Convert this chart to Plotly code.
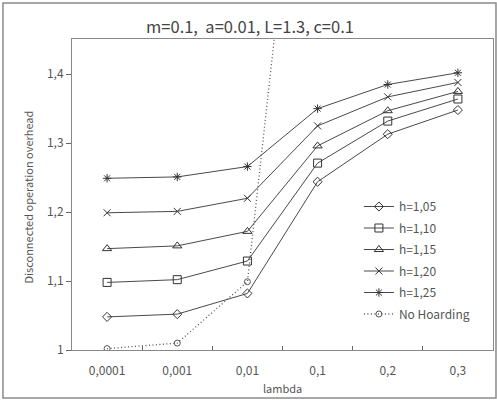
import plotly.graph_objects as go

lambdas = ["0,0001", "0,001", "0,01", "0,1", "0,2", "0,3"]
h105 = [1.048, 1.052, 1.082, 1.244, 1.313, 1.348]
h110 = [1.098, 1.102, 1.129, 1.271, 1.332, 1.364]
h115 = [1.147, 1.151, 1.172, 1.296, 1.347, 1.375]
h120 = [1.199, 1.201, 1.220, 1.325, 1.367, 1.388]
h125 = [1.249, 1.251, 1.266, 1.350, 1.385, 1.402]
no_hoarding = [1.002, 1.010, 1.099, 2.02, 2.6, 3.0]

series_names = ["h=1,05", "h=1,10", "h=1,15", "h=1,20", "h=1,25"]
series_vals = [h105, h110, h115, h120, h125]
symbols = ["diamond-open", "square-open", "triangle-up-open", "x-thin-open", "asterisk-open"]
sizes = [7, 8, 8, 7, 7]

y_ticks = [1.0, 1.1, 1.2, 1.3, 1.4]
y_ticktext = ["1", "1,1", "1,2", "1,3", "1,4"]

FONT = "Noto Sans CJK KR"
TXT = "#555555"
LINE = "#4a4a4a"

fig = go.Figure()
for i, (name, vals, sym, sz) in enumerate(zip(series_names, series_vals, symbols, sizes)):
    fig.add_trace(go.Scatter(
        x=lambdas, y=vals, name=name, mode="lines+markers", legendgroup=f"g{i}",
        line=dict(color=LINE, width=1),
        marker=dict(symbol=sym, size=sz, color="#333333", line=dict(width=1, color="#333333")),
    ))
fig.add_trace(go.Scatter(
    x=lambdas, y=no_hoarding, name="No Hoarding", mode="lines+markers", legendgroup="g5",
    line=dict(color="#555555", width=1.3, dash="1px,2.5px"),
    marker=dict(symbol="circle-open", size=6, color="#555555", line=dict(width=1, color="#555555")),
))

fig.update_layout(
    width=497, height=400,
    margin=dict(l=72, r=4, t=39, b=50),
    paper_bgcolor="white", plot_bgcolor="white",
    font=dict(family=FONT, color=TXT, size=12),
    title=dict(text="m=0.1,\u00a0\u00a0a=0.01, L=1.3, c=0.1", x=0.503, xref="container", xanchor="center",
               y=1 - 27 / 400, yref="container", yanchor="middle",
               font=dict(family=FONT, size=16.5, color="#444444")),
    showlegend=True,
    legend=dict(x=0.6815, y=0.508, xanchor="left", yanchor="top", bgcolor="rgba(0,0,0,0)",
                font=dict(family=FONT, size=12, color=TXT), tracegroupgap=2.5,
                traceorder="grouped"),
    xaxis=dict(type="category", range=[-0.5, 5.5], showgrid=False, zeroline=False,
               showline=True, linecolor="#888888", linewidth=1, mirror=True,
               ticks="inside", tickson="boundaries", ticklen=4, tickcolor="#666666",
               ticklabelstandoff=10,
               tickfont=dict(family=FONT, size=12, color=TXT)),
    yaxis=dict(range=[1.0, 1.451], showgrid=False, zeroline=False,
               showline=True, linecolor="#888888", linewidth=1, mirror=True,
               ticks="outside", ticklen=5, tickcolor="#666666",
               tickvals=y_ticks, ticktext=y_ticktext,
               tickfont=dict(family=FONT, size=12, color=TXT)),
    annotations=[
        dict(text="Disconnected operation overhead", xref="paper", yref="paper",
             x=-0.1045, y=0.49, textangle=-90, showarrow=False,
             xanchor="center", yanchor="middle",
             font=dict(family=FONT, size=11, color=TXT)),
        dict(text="lambda", xref="paper", yref="paper", x=0.5, y=-0.123,
             showarrow=False, xanchor="center", yanchor="middle",
             font=dict(family=FONT, size=11, color=TXT)),
    ],
    shapes=[
        dict(type="rect", xref="paper", yref="paper", x0=-0.164, x1=1.0071, y0=-0.154, y1=1.1158,
             line=dict(color="#8a8a8a", width=1.5), fillcolor="rgba(0,0,0,0)", layer="below"),
    ],
)

fig.write_html("out.html")
